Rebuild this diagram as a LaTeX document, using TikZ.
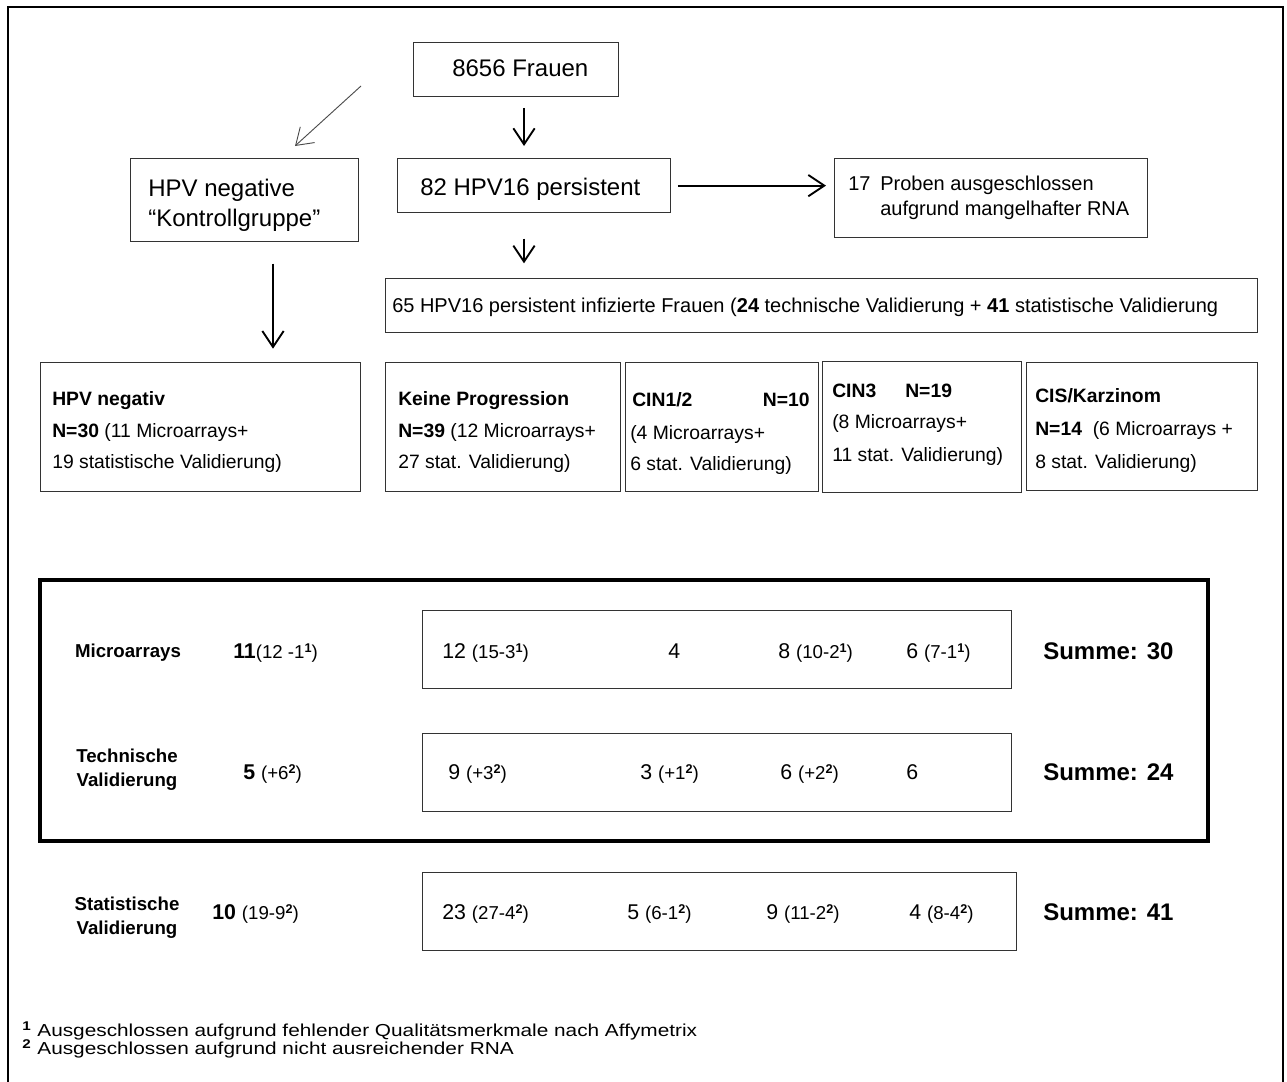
\documentclass[tikz,border=0pt]{standalone}
\usepackage{fontspec}
\setmainfont{Liberation Sans}
\newfontfamily\widefont{Liberation Sans}[FakeStretch=1.2]
\usetikzlibrary{arrows.meta}
\newcommand\parnum[1]{{\fontsize{14}{16}\selectfont #1}}
\newcommand\supnum[1]{\raisebox{0.55ex}{\fontsize{9.5}{10}\selectfont\bfseries #1}}
\begin{document}
\begin{tikzpicture}[x=0.75pt,y=-0.75pt,
  box/.style={draw=black!80, line width=0.9pt, inner sep=0pt, anchor=north west},
  txt/.style={inner sep=0pt, anchor=base west},
  ctxt/.style={inner sep=0pt, anchor=base},
  arr/.style={-{Straight Barb[length=12pt,width=16pt]}, line width=1.4pt},
  thinarr/.style={-{Straight Barb[length=12pt,width=16pt]}, line width=0.7pt, black!70},
  big/.style={font=\fontsize{18}{21}\selectfont},
  mid/.style={font=\fontsize{15}{18}\selectfont},
  row/.style={font=\fontsize{14.5}{17}\selectfont},
  rowb/.style={font=\fontsize{14.5}{17}\selectfont\bfseries},
  lab/.style={font=\fontsize{14}{16}\selectfont\bfseries},
  num/.style={font=\fontsize{16}{18}\selectfont},
  sum/.style={font=\fontsize{18}{21}\selectfont\bfseries},
  foot/.style={font=\widefont\fontsize{13}{15}\selectfont},
]
\useasboundingbox (0,0) rectangle (1287,1081);
% outer frame (its lower edge lies below the page)
\draw[line width=1.6pt] (8,7) rectangle (1283,1095);

% ---------- upper flow chart ----------
\node[box, minimum width=205*0.75pt, minimum height=54*0.75pt] (frauen) at (413,42) {};
\node[box, minimum width=273*0.75pt, minimum height=54*0.75pt] (pers) at (397,158) {};
\node[box, minimum width=228*0.75pt, minimum height=83*0.75pt] (neg) at (130,158) {};
\node[box, minimum width=313*0.75pt, minimum height=79*0.75pt] (excl) at (834,158) {};
\node[box, minimum width=872*0.75pt, minimum height=54*0.75pt] (inf) at (385,278) {};

\node[txt, big] (tfrauen) at (452,77) {8656 Frauen};
\node[txt, big] (tpers) at (420,195) {82 HPV16 persistent};
\node[txt, big] (tneg1) at (148,196) {HPV negative};
\node[txt, big] (tneg2) at (148,226) {“Kontrollgruppe”};
\node[txt, mid] (texcl0) at (848,190) {17};
\node[txt, mid] (texcl1) at (880,190) {Proben ausgeschlossen};
\node[txt, mid] (texcl2) at (880,215) {aufgrund mangelhafter RNA};
\node[txt, mid] (tinf) at (392,312) {65 HPV16 persistent infizierte Frauen (\textbf{24} technische Validierung + \textbf{41} statistische Validierung};

% connectors of the upper part
\coordinate (axis) at (524,0);
\coordinate (dstart) at (361,86);
\coordinate (dend) at (295,146);
\draw[arr, shorten <=8pt, shorten >=9pt] (frauen.south -| axis) -- (pers.north -| axis);
\draw[arr, shorten <=19pt, shorten >=11pt] (pers.south -| axis) -- (inf.north -| axis);
\draw[arr, shorten <=5pt, shorten >=6pt] (pers.east) -- (excl.west |- pers.east);
\draw[thinarr] (dstart) -- (dend);

% ---------- group boxes ----------
\node[box, minimum width=320*0.75pt, minimum height=129*0.75pt] (gneg) at (40,362) {};
\node[box, minimum width=235*0.75pt, minimum height=129*0.75pt] (gkp) at (385,362) {};
\node[box, minimum width=193*0.75pt, minimum height=129*0.75pt] (gcin12) at (625,362) {};
\node[box, minimum width=199*0.75pt, minimum height=131*0.75pt] (gcin3) at (822,361) {};
\node[box, minimum width=231*0.75pt, minimum height=128*0.75pt] (gcis) at (1026,362) {};

\coordinate (negaxis) at (273,0);
\draw[arr, shorten <=16pt, shorten >=10pt] (neg.south -| negaxis) -- (gneg.north -| negaxis);

\node[txt, rowb] (gneg1) at (52,405) {HPV negativ};
\node[txt, row] (gneg2) at (52,437) {\textbf{N=30} (11 Microarrays+};
\node[txt, row] (gneg3) at (52,468) {19 statistische Validierung)};

\node[txt, rowb] (gkp1) at (398,405) {Keine Progression};
\node[txt, row] (gkp2) at (398,437) {\textbf{N=39} (12 Microarrays+};
\node[txt, row] (gkp3) at (398,468) {27 stat. Validierung)};

\node[txt, rowb] (gcin12a) at (632,406) {CIN1/2};
\node[txt, rowb, anchor=base east] (gcin12b) at (810,406) {N=10};
\node[txt, row] (gcin12c) at (630,439) {(4 Microarrays+};
\node[txt, row] (gcin12d) at (630,470) {6 stat. Validierung)};

\node[txt, rowb] (gcin3a) at (832,397) {CIN3};
\node[txt, rowb] (gcin3b) at (905,397) {N=19};
\node[txt, row] (gcin3c) at (832,428) {(8 Microarrays+};
\node[txt, row] (gcin3d) at (832,461) {11 stat. Validierung)};

\node[txt, rowb] (gcis1) at (1035,402) {CIS/Karzinom};
\node[txt, row] (gcis2) at (1035,435) {\textbf{N=14}\ \ (6 Microarrays +};
\node[txt, row] (gcis3) at (1035,468) {8 stat. Validierung)};

% ---------- summary table ----------
\draw[line width=2.6pt] (40,580) rectangle (1208,841);
\node[box, minimum width=589*0.75pt, minimum height=78*0.75pt] (rmic) at (422,610) {};
\node[box, minimum width=589*0.75pt, minimum height=78*0.75pt] (rtech) at (422,733) {};
\node[box, minimum width=594*0.75pt, minimum height=78*0.75pt] (rstat) at (422,872) {};

\node[ctxt, lab] (lmic) at (128,657) {Microarrays};
\node[ctxt, lab] (ltech1) at (127,762) {Technische};
\node[ctxt, lab] (ltech2) at (127,786) {Validierung};
\node[ctxt, lab] (lstat1) at (127,910) {Statistische};
\node[ctxt, lab] (lstat2) at (127,934) {Validierung};

\node[txt, num] (nmic) at (233,658) {\textbf{11}\parnum{(12 -1\supnum{1})}};
\node[txt, num] (ntech) at (243,779) {\textbf{5} \parnum{(+6\supnum{2})}};
\node[txt, num] (nstat) at (212,919) {\textbf{10} \parnum{(19-9\supnum{2})}};

\node[txt, num] (m1) at (442,658) {12 \parnum{(15-3\supnum{1})}};
\node[txt, num] (m2) at (668,658) {4};
\node[txt, num] (m3) at (778,658) {8 \parnum{(10-2\supnum{1})}};
\node[txt, num] (m4) at (906,658) {6 \parnum{(7-1\supnum{1})}};

\node[txt, num] (t1) at (448,779) {9 \parnum{(+3\supnum{2})}};
\node[txt, num] (t2) at (640,779) {3 \parnum{(+1\supnum{2})}};
\node[txt, num] (t3) at (780,779) {6 \parnum{(+2\supnum{2})}};
\node[txt, num] (t4) at (906,779) {6};

\node[txt, num] (s1) at (442,919) {23 \parnum{(27-4\supnum{2})}};
\node[txt, num] (s2) at (627,919) {5 \parnum{(6-1\supnum{2})}};
\node[txt, num] (s3) at (766,919) {9 \parnum{(11-2\supnum{2})}};
\node[txt, num] (s4) at (909,919) {4 \parnum{(8-4\supnum{2})}};

\node[txt, sum] (sum1) at (1043,659) {Summe: 30};
\node[txt, sum] (sum2) at (1043,780) {Summe: 24};
\node[txt, sum] (sum3) at (1043,920) {Summe: 41};

% ---------- footnotes ----------
\node[txt, foot] (fn1) at (22,1036) {\supnum{1}\hspace{5pt}Ausgeschlossen aufgrund fehlender Qualitätsmerkmale nach Affymetrix};
\node[txt, foot] (fn2) at (22,1054) {\supnum{2}\hspace{5pt}Ausgeschlossen aufgrund nicht ausreichender RNA};
\end{tikzpicture}
\end{document}
